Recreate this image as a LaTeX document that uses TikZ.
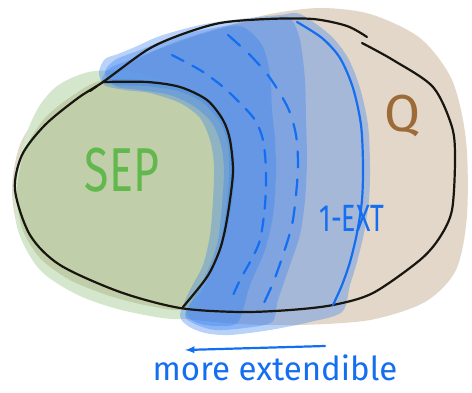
\documentclass[tikz,border=0pt]{standalone}
\usepackage{fontspec}
\setmainfont{Fira Sans}
\usetikzlibrary{arrows,positioning}
\tikzset{>=latex}
\definecolor{qbeige}{RGB}{226,215,201}
\definecolor{sepgreen}{RGB}{192,207,169}
\definecolor{sepedge}{RGB}{212,230,204}
\definecolor{bandblue}{RGB}{60,130,240}
\definecolor{penblue}{RGB}{20,110,240}
\definecolor{pengreen}{RGB}{98,184,77}
\definecolor{penbrown}{RGB}{156,107,56}
\definecolor{penblack}{RGB}{25,22,15}

\begin{document}
\begin{tikzpicture}[x=1pt,y=-1pt,
    band/.style={fill=bandblue, fill opacity=0.36},
    outline/.style={draw=penblack, line width=2.2pt, line cap=round},
    pen/.style={draw=penblue, line width=2.2pt, line cap=round},
    lbl/.style={inner sep=0pt, text=penblue}]
	\useasboundingbox (0,0) rectangle (472,392);
	% Q
	\fill[qbeige] plot[smooth cycle] coordinates {(105,80) (140,58) (180,40) (230,25) (270,14) (320,8) (370,14) (420,38) (452,80) (466,140) (467,215) (456,270) (425,302) (370,320) (300,325) (240,324) (180,318) (110,305) (55,280) (22,240) (12,190) (22,140) (55,100)};
	% SEP
	\fill[sepedge] plot[smooth cycle] coordinates {(95,71) (60,84) (40,105) (26,135) (14,180) (18,230) (40,270) (80,296) (130,312) (185,318) (205,285) (228,200) (222,115) (150,76)};
	\fill[sepgreen] plot[smooth cycle] coordinates {(103,80) (147,80) (180,85) (207,98) (225,120) (233,145) (235,175) (232,205) (226,235) (218,258) (205,282) (185,309) (150,306) (110,296) (70,280) (40,258) (22,228) (17,190) (25,150) (45,118) (75,94)};
	% blue bands
	\fill[band] plot[smooth cycle] coordinates {(99,72) (105,59) (118,54) (135,47) (160,36) (200,25) (240,19) (280,15) (300,14) (330,35) (348,58) (360,88) (368,125) (370,165) (369,200) (364,233) (357,262) (350,285) (342,312) (310,322) (270,330) (230,335) (205,333) (188,326) (180,315) (190,290) (203,265) (210,235) (213,200) (214,165) (210,140) (200,118) (180,103) (150,93) (125,90) (104,85)};
	\fill[band] plot[smooth cycle] coordinates {(105,72) (115,60) (140,50) (180,35) (230,25) (270,18) (290,18) (300,40) (305,80) (306,120) (307,160) (305,200) (300,235) (290,265) (278,300) (272,322) (245,328) (215,330) (195,324) (185,315) (198,290) (210,265) (218,240) (222,205) (224,170) (221,145) (212,123) (195,107) (170,95) (140,90) (115,86)};
	\fill[band] plot[smooth cycle] coordinates {(102,80) (110,68) (135,58) (170,45) (205,33) (240,26) (262,45) (270,75) (272,110) (275,140) (276,175) (273,215) (265,250) (250,285) (238,322) (215,326) (195,322) (186,312) (200,292) (212,270) (220,245) (226,210) (229,175) (228,145) (220,122) (202,102) (178,91) (145,86) (115,85)};
	% black outlines
	\draw[outline] plot[smooth] coordinates {(362,43) (393,60) (433,87) (452,127) (455,160) (452,210) (440,237) (420,260) (373,293) (333,305) (290,310) (240,312) (180,308) (120,292) (60,265) (30,235) (15,190) (22,155) (45,125) (78,98) (103,82) (147,50) (180,35) (220,23) (267,19) (313,19) (347,26) (367,37)};
	\draw[outline] (90,91) -- (97,86);
	\draw[outline] plot[smooth] coordinates {(103,82) (147,82) (180,87) (207,100) (223,120) (230,140) (233,170) (230,200) (225,230) (219,252) (207,277) (183,307)};
	% blue lines
	\draw[pen] plot[smooth] coordinates {(297,22) (322,38) (340,58) (353,88) (361,125) (363,165) (362,200) (357,233) (350,262) (342,285) (333,305)};
	\draw[pen, dash pattern=on 13pt off 10pt] plot[smooth] coordinates {(172,55) (200,70) (222,86) (240,103) (255,120) (263,140) (266,170) (265,205) (260,240) (250,262) (240,280) (230,302)};
	\draw[pen, dash pattern=on 16pt off 12pt] plot[smooth] coordinates {(228,35) (250,55) (270,78) (288,108) (296,135) (298,165) (296,195) (292,225) (283,255) (273,283) (263,305)};
	% labels
	\node[inner sep=0pt, text=pengreen, xscale=0.72] (sep) at (122,170) {\fontsize{62}{62}\selectfont SEP};
	\node[inner sep=0pt, text=penbrown] (q) at (402,116) {\fontsize{52}{52}\selectfont Q};
	\node[lbl, xscale=0.7] (ext) at (352,218) {\fontsize{38}{38}\selectfont 1-EXT};
	\coordinate (tail) at (325,346);
	\coordinate (tip) at (185,350);
	\draw[pen, ->] (tail) -- (tip);
	\node[lbl] (more) [below=9pt of tail, xshift=-50pt] {\fontsize{33}{33}\selectfont more extendible};
\end{tikzpicture}
\end{document}
